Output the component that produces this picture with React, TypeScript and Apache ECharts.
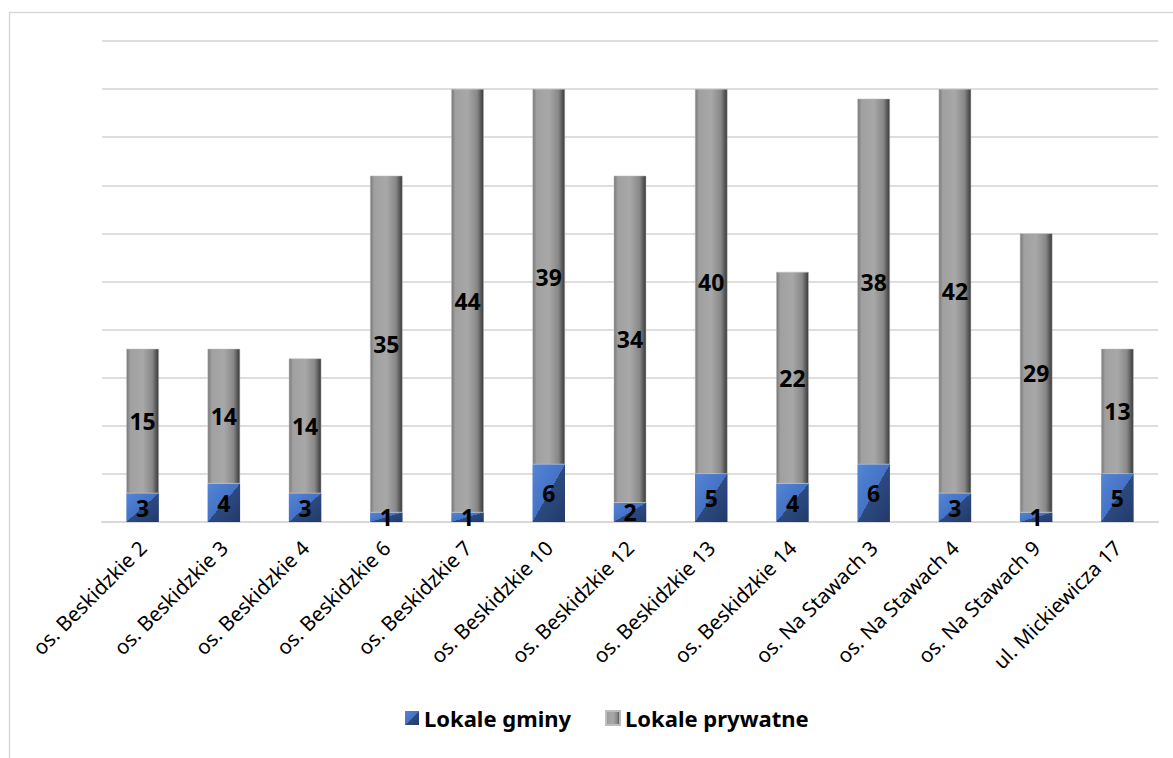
import React, { useEffect, useRef } from "react";
import * as echarts from "echarts";

const categories = [
  "os. Beskidzkie 2",
  "os. Beskidzkie 3",
  "os. Beskidzkie 4",
  "os. Beskidzkie 6",
  "os. Beskidzkie 7",
  "os. Beskidzkie 10",
  "os. Beskidzkie 12",
  "os. Beskidzkie 13",
  "os. Beskidzkie 14",
  "os. Na Stawach 3",
  "os. Na Stawach 4",
  "os. Na Stawach 9",
  "ul. Mickiewicza 17",
];
const gminy = [3, 4, 3, 1, 1, 6, 2, 5, 4, 6, 3, 1, 5];
const prywatne = [15, 14, 14, 35, 44, 39, 34, 40, 22, 38, 42, 29, 13];
const seriesNames = ["Lokale gminy", "Lokale prywatne"];

const FONT = "'Noto Sans', 'Open Sans', sans-serif";

export default function App() {
  const ref = useRef<HTMLDivElement>(null);
  useEffect(() => {
    if (!ref.current) return;
    const chart = echarts.init(ref.current, undefined, { renderer: "svg" });
    const blue = new echarts.graphic.LinearGradient(0, 0, 1, 1, [
      { offset: 0, color: "#5585d6" },
      { offset: 0.5, color: "#4472c4" },
      { offset: 0.5, color: "#2c4a80" },
      { offset: 1, color: "#22396a" },
    ]);
    const gray = new echarts.graphic.LinearGradient(0, 0, 1, 0, [
      { offset: 0, color: "#777777" },
      { offset: 0.12, color: "#a0a0a0" },
      { offset: 0.5, color: "#a8a8a8" },
      { offset: 0.8, color: "#888888" },
      { offset: 1, color: "#383838" },
    ]);
    const labelCommon = {
      show: true,
      position: "inside" as const,
      color: "#000",
      fontFamily: FONT,
      fontWeight: "bold" as const,
      fontSize: 23,
    };
    chart.setOption({
      animation: false,
      backgroundColor: "#fff",
      graphic: [
        {
          type: "rect",
          shape: { x: 9.5, y: 12.5, width: 1180, height: 770 },
          style: { fill: "none", stroke: "#d9d9d9", lineWidth: 1.5 },
          silent: true,
        },
      ],
      grid: { left: 102, right: 15, top: 41, bottom: 236, containLabel: false },
      legend: {
        data: seriesNames,
        bottom: 24,
        left: 400,
        icon: "rect",
        itemWidth: 14,
        itemHeight: 14,
        itemGap: 34,
        textStyle: { fontFamily: FONT, fontWeight: "bold", fontSize: 22, color: "#000" },
      },
      xAxis: {
        type: "category",
        data: categories,
        axisLine: { lineStyle: { color: "#d9d9d9", width: 2 } },
        axisTick: { show: false },
        axisLabel: {
          rotate: 45,
          interval: 0,
          margin: 22,
          fontFamily: FONT,
          fontSize: 20.5,
          color: "#000",
        },
      },
      yAxis: {
        type: "value",
        min: 0,
        max: 50,
        interval: 5,
        axisLabel: { show: false },
        axisLine: { show: false },
        axisTick: { show: false },
        splitLine: { lineStyle: { color: "#dedede", width: 2 } },
      },
      series: [
        {
          name: seriesNames[0],
          type: "bar",
          stack: "total",
          data: gminy,
          barWidth: "40%",
          itemStyle: { color: blue },
          label: labelCommon,
        },
        {
          name: seriesNames[1],
          type: "bar",
          stack: "total",
          data: prywatne,
          barWidth: "40%",
          itemStyle: { color: gray, borderColor: "#bdbdbd", borderWidth: 0.5 },
          label: labelCommon,
        },
      ],
    });
    return () => chart.dispose();
  }, []);
  return (
    <div
      ref={ref}
      style={{ position: "fixed", left: 0, top: 0, width: 1173, height: 758 }}
    />
  );
}
